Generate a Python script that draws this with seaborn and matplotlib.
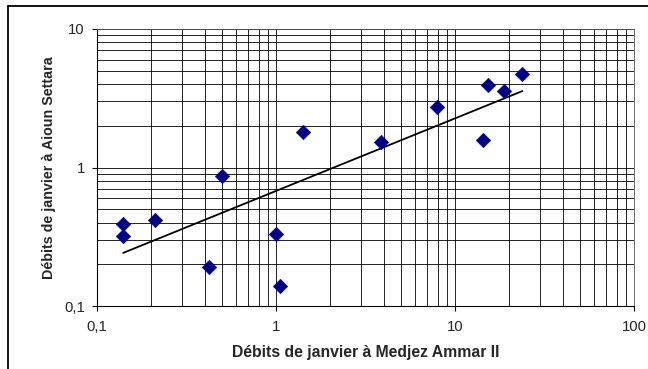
import numpy as np
import pandas as pd
import matplotlib
matplotlib.use("Agg")
import matplotlib.pyplot as plt
from matplotlib.lines import Line2D
from matplotlib.ticker import LogLocator, FixedLocator, FixedFormatter, NullFormatter
import seaborn as sns

# January flows (m3/s) at the two gauging stations
medjez_ammar = [0.14, 0.14, 0.21, 0.42, 0.50, 1.00, 1.05, 1.42, 3.86, 7.94, 14.3, 15.3, 18.7, 23.8]
aioun_settara = [0.39, 0.32, 0.42, 0.19, 0.87, 0.33, 0.14, 1.81, 1.53, 2.75, 1.58, 3.96, 3.59, 4.71]

tick_values = [0.1, 1, 10, 100]
x_tick_labels = ["0,1", "1", "10", "100"]
y_tick_values = [0.1, 1, 10]
y_tick_labels = ["0,1", "1", "10"]

df = pd.DataFrame({"x": medjez_ammar, "y": aioun_settara})

# Power-law trend: straight line in log-log space
b, a = np.polyfit(np.log10(df["x"]), np.log10(df["y"]), 1)
xs = np.geomspace(df["x"].min(), df["x"].max(), 50)
trend = pd.DataFrame({"x": xs, "y": 10 ** a * xs ** b})

sns.set_style("white")
plt.rcParams["font.family"] = ["Liberation Sans", "DejaVu Sans"]

W, H = 648, 369
fig = plt.figure(figsize=(W / 100, H / 100), dpi=100)
ax = fig.add_axes([97 / W, 1 - 306 / H, (634 - 97) / W, (306 - 29) / H])

ax.set_xscale("log")
ax.set_yscale("log")
ax.set_xlim(0.1, 100)
ax.set_ylim(0.1, 10)

# Grid at every major and minor decade subdivision
ax.xaxis.set_major_locator(FixedLocator(tick_values))
ax.xaxis.set_major_formatter(FixedFormatter(x_tick_labels))
ax.yaxis.set_major_locator(FixedLocator(y_tick_values))
ax.yaxis.set_major_formatter(FixedFormatter(y_tick_labels))
ax.xaxis.set_minor_locator(LogLocator(base=10, subs=np.arange(2, 10)))
ax.yaxis.set_minor_locator(LogLocator(base=10, subs=np.arange(2, 10)))
ax.xaxis.set_minor_formatter(NullFormatter())
ax.yaxis.set_minor_formatter(NullFormatter())
ax.grid(True, which="both", color="black", linewidth=0.6)
ax.set_axisbelow(True)

sns.lineplot(data=trend, x="x", y="y", ax=ax, color="black", linewidth=1.3, zorder=3)
sns.scatterplot(data=df, x="x", y="y", ax=ax, marker="D", s=56,
                color="#000080", edgecolor="#000080", linewidth=0.3, zorder=4)

for side in ["top", "right"]:
    ax.spines[side].set_color("#555555")
    ax.spines[side].set_linewidth(0.6)
for side in ["left", "bottom"]:
    ax.spines[side].set_color("black")
    ax.spines[side].set_linewidth(0.8)

ax.tick_params(which="major", direction="out", length=3.4, width=0.8, color="black",
               labelsize=10.7, bottom=True, left=True)
ax.tick_params(axis="y", which="major", pad=5.5)
ax.tick_params(axis="x", which="major", pad=6.5)
ax.tick_params(which="minor", length=0)

ax.set_xlabel("Débits de janvier à Medjez Ammar II", fontsize=11.3, fontweight="bold", labelpad=8)
ax.set_ylabel("Débits de janvier à Aioun Settara", fontsize=10.3, fontweight="bold", labelpad=5.5)

# Chart frame, top and left edges
fig.add_artist(Line2D([7.5 / W, 1], [1 - 6 / H, 1 - 6 / H], transform=fig.transFigure,
                      color="black", linewidth=1.3))
fig.add_artist(Line2D([7.5 / W, 7.5 / W], [0, 1 - 6 / H], transform=fig.transFigure,
                      color="black", linewidth=1.3))

fig.savefig("out.png", dpi=100)
